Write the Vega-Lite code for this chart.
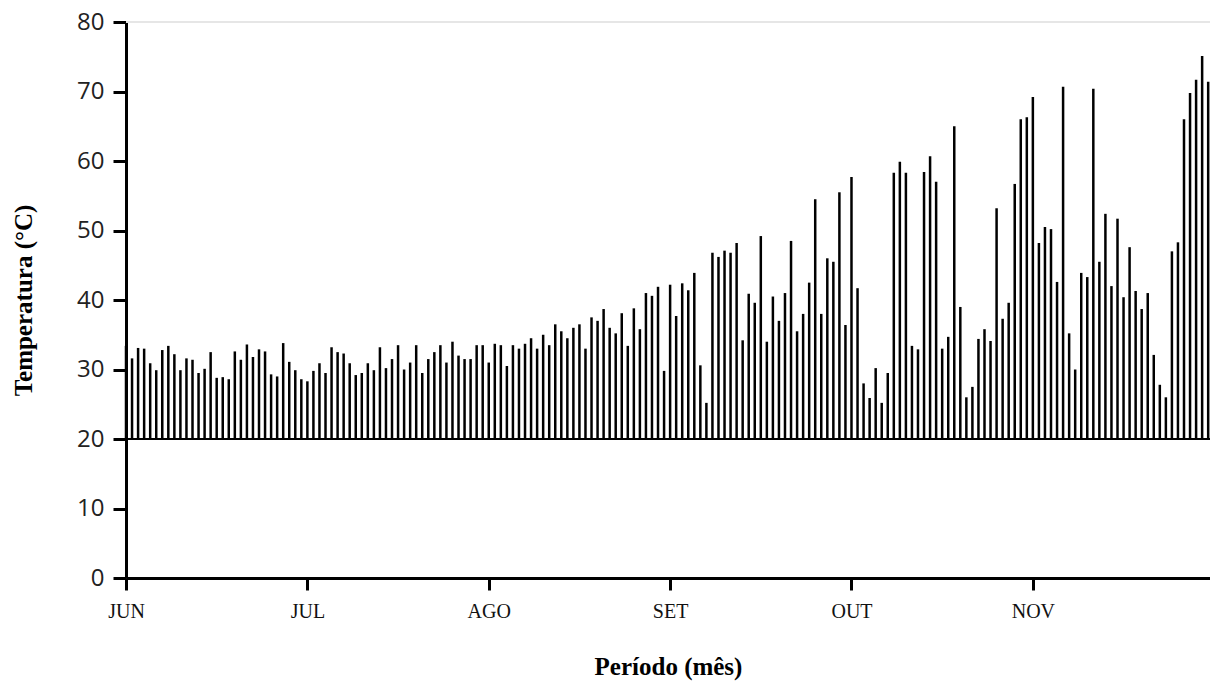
{
  "$schema": "https://vega.github.io/schema/vega-lite/v6.json",
  "width": 1084,
  "height": 556,
  "autosize": {"type": "none"},
  "padding": {"left": 126, "top": 22, "right": 0, "bottom": 107},
  "background": "white",
  "config": {"view": {"stroke": null}},
  "data": {"values": [
    {"d":1,"t":33.4},{"d":2,"t":31.6},{"d":3,"t":33.1},{"d":4,"t":33.0},{"d":5,"t":30.9},{"d":6,"t":29.9},{"d":7,"t":32.8},{"d":8,"t":33.4},{"d":9,"t":32.2},{"d":10,"t":29.9},
    {"d":11,"t":31.6},{"d":12,"t":31.4},{"d":13,"t":29.5},{"d":14,"t":30.1},{"d":15,"t":32.5},{"d":16,"t":28.8},{"d":17,"t":28.9},{"d":18,"t":28.6},{"d":19,"t":32.6},{"d":20,"t":31.4},
    {"d":21,"t":33.6},{"d":22,"t":31.8},{"d":23,"t":32.9},{"d":24,"t":32.6},{"d":25,"t":29.3},{"d":26,"t":29.0},{"d":27,"t":33.8},{"d":28,"t":31.1},{"d":29,"t":29.9},{"d":30,"t":28.6},
    {"d":31,"t":28.3},{"d":32,"t":29.8},{"d":33,"t":30.9},{"d":34,"t":29.5},{"d":35,"t":33.2},{"d":36,"t":32.5},{"d":37,"t":32.3},{"d":38,"t":30.9},{"d":39,"t":29.2},{"d":40,"t":29.5},
    {"d":41,"t":30.9},{"d":42,"t":29.9},{"d":43,"t":33.2},{"d":44,"t":30.2},{"d":45,"t":31.5},{"d":46,"t":33.5},{"d":47,"t":30.0},{"d":48,"t":31.0},{"d":49,"t":33.5},{"d":50,"t":29.5},
    {"d":51,"t":31.5},{"d":52,"t":32.5},{"d":53,"t":33.5},{"d":54,"t":31.0},{"d":55,"t":34.0},{"d":56,"t":32.0},{"d":57,"t":31.5},{"d":58,"t":31.5},{"d":59,"t":33.5},{"d":60,"t":33.5},
    {"d":61,"t":31.0},{"d":62,"t":33.7},{"d":63,"t":33.5},{"d":64,"t":30.5},{"d":65,"t":33.5},{"d":66,"t":33.0},{"d":67,"t":33.7},{"d":68,"t":34.5},{"d":69,"t":33.0},{"d":70,"t":35.0},
    {"d":71,"t":33.5},{"d":72,"t":36.5},{"d":73,"t":35.5},{"d":74,"t":34.5},{"d":75,"t":36.0},{"d":76,"t":36.5},{"d":77,"t":33.0},{"d":78,"t":37.5},{"d":79,"t":37.0},{"d":80,"t":38.7},
    {"d":81,"t":36.0},{"d":82,"t":35.2},{"d":83,"t":38.1},{"d":84,"t":33.4},{"d":85,"t":38.8},{"d":86,"t":35.8},{"d":87,"t":41.0},{"d":88,"t":40.6},{"d":89,"t":41.9},{"d":90,"t":29.8},
    {"d":91,"t":42.2},{"d":92,"t":37.7},{"d":93,"t":42.4},{"d":94,"t":41.4},{"d":95,"t":43.9},{"d":96,"t":30.6},{"d":97,"t":25.2},{"d":98,"t":46.8},{"d":99,"t":46.2},{"d":100,"t":47.1},
    {"d":101,"t":46.8},{"d":102,"t":48.2},{"d":103,"t":34.2},{"d":104,"t":40.9},{"d":105,"t":39.6},{"d":106,"t":49.2},{"d":107,"t":34.0},{"d":108,"t":40.5},{"d":109,"t":37.0},{"d":110,"t":41.0},
    {"d":111,"t":48.5},{"d":112,"t":35.5},{"d":113,"t":38.0},{"d":114,"t":42.5},{"d":115,"t":54.5},{"d":116,"t":38.0},{"d":117,"t":46.0},{"d":118,"t":45.5},{"d":119,"t":55.5},{"d":120,"t":36.4},
    {"d":121,"t":57.7},{"d":122,"t":41.7},{"d":123,"t":28.0},{"d":124,"t":25.9},{"d":125,"t":30.2},{"d":126,"t":25.2},{"d":127,"t":29.5},{"d":128,"t":58.3},{"d":129,"t":59.9},{"d":130,"t":58.3},
    {"d":131,"t":33.4},{"d":132,"t":32.9},{"d":133,"t":58.4},{"d":134,"t":60.7},{"d":135,"t":57.0},{"d":136,"t":33.0},{"d":137,"t":34.7},{"d":138,"t":65.0},{"d":139,"t":39.0},{"d":140,"t":26.0},
    {"d":141,"t":27.5},{"d":142,"t":34.4},{"d":143,"t":35.8},{"d":144,"t":34.1},{"d":145,"t":53.2},{"d":146,"t":37.3},{"d":147,"t":39.6},{"d":148,"t":56.7},{"d":149,"t":66.0},{"d":150,"t":66.3},
    {"d":151,"t":69.2},{"d":152,"t":48.2},{"d":153,"t":50.5},{"d":154,"t":50.2},{"d":155,"t":42.6},{"d":156,"t":70.7},{"d":157,"t":35.2},{"d":158,"t":30.0},{"d":159,"t":43.9},{"d":160,"t":43.3},
    {"d":161,"t":70.4},{"d":162,"t":45.5},{"d":163,"t":52.4},{"d":164,"t":42.0},{"d":165,"t":51.7},{"d":166,"t":40.4},{"d":167,"t":47.6},{"d":168,"t":41.3},{"d":169,"t":38.7},{"d":170,"t":41.0},
    {"d":171,"t":32.1},{"d":172,"t":27.8},{"d":173,"t":26.0},{"d":174,"t":47.0},{"d":175,"t":48.3},{"d":176,"t":66.0},{"d":177,"t":69.8},{"d":178,"t":71.7},{"d":179,"t":75.1},{"d":180,"t":71.4}
  ]},
  "encoding": {
    "x": {
      "field": "d",
      "type": "quantitative",
      "scale": {"domain": [1, 180.3], "nice": false, "zero": false},
      "axis": {
        "title": "Período (mês)",
        "values": [1, 31, 61, 91, 121, 151],
        "labelExpr": "datum.value == 1 ? 'JUN' : datum.value == 31 ? 'JUL' : datum.value == 61 ? 'AGO' : datum.value == 91 ? 'SET' : datum.value == 121 ? 'OUT' : 'NOV'",
        "grid": false,
        "domainColor": "#000000",
        "domainWidth": 3,
        "tickColor": "#000000",
        "tickWidth": 3,
        "tickSize": 12,
        "labelFont": "Liberation Serif",
        "labelFontSize": 20,
        "labelColor": "#111111",
        "labelPadding": 11,
        "labelFlush": false,
        "titleFont": "Liberation Serif",
        "titleFontSize": 25,
        "titleFontWeight": "bold",
        "titleColor": "#000000",
        "titlePadding": 33
      }
    }
  },
  "layer": [
    {
      "mark": {"type": "rule", "color": "#e6e6e6", "strokeWidth": 1.5},
      "encoding": {"y": {"datum": 80}, "x": null}
    },
    {
      "mark": {"type": "rule", "color": "#000000", "strokeWidth": 1.8},
      "encoding": {"y": {"datum": 20}, "x": null}
    },
    {
      "mark": {"type": "rule", "color": "#000000", "strokeWidth": 2.5},
      "encoding": {
        "y": {
          "field": "t",
          "type": "quantitative",
          "scale": {"domain": [0, 80], "nice": false},
          "axis": {
            "title": "Temperatura (°C)",
            "values": [0, 10, 20, 30, 40, 50, 60, 70, 80],
            "grid": false,
            "domainColor": "#000000",
            "domainWidth": 3,
            "tickColor": "#000000",
            "tickWidth": 3,
            "tickSize": 13,
            "labelFont": "Open Sans",
            "labelFontSize": 24,
            "labelColor": "#222222",
            "labelPadding": 9,
            "titleFont": "Liberation Serif",
            "titleFontSize": 25,
            "titleFontWeight": "bold",
            "titleColor": "#000000",
            "titlePadding": 40
          }
        },
        "y2": {"datum": 20}
      }
    }
  ]
}
